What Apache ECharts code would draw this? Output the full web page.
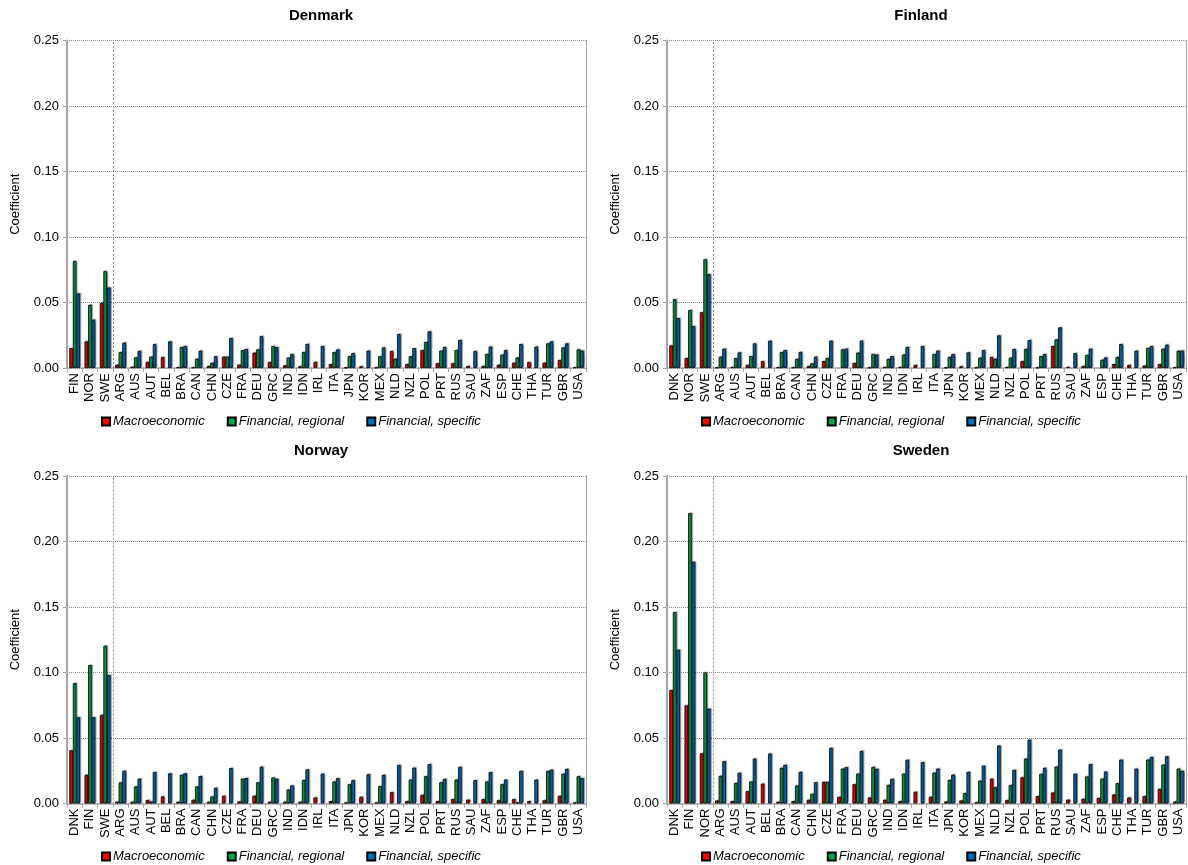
<!DOCTYPE html>
<html>
<head>
<meta charset="utf-8">
<title>Coefficients by country</title>
<script src="https://cdn.jsdelivr.net/npm/echarts@6/dist/echarts.min.js"></script>
<style>
  html, body { margin: 0; padding: 0; background: #fff; }
  #chart { width: 1188px; height: 865px; }
</style>
</head>
<body>
<div id="chart"></div>
<script>
// Shared list of the non-Nordic countries
const otherCountries = ['ARG','AUS','AUT','BEL','BRA','CAN','CHN','CZE','FRA','DEU','GRC','IND','IDN','IRL','ITA','JPN','KOR','MEX','NLD','NZL','POL','PRT','RUS','SAU','ZAF','ESP','CHE','THA','TUR','GBR','USA'];

const denmarkCats = ['FIN','NOR','SWE'].concat(otherCountries);
const finlandCats = ['DNK','NOR','SWE'].concat(otherCountries);
const norwayCats  = ['DNK','FIN','SWE'].concat(otherCountries);
const swedenCats  = ['DNK','FIN','NOR'].concat(otherCountries);

const seriesNames = ['Macroeconomic', 'Financial, regional', 'Financial, specific'];
const yTicks = [0, 0.05, 0.10, 0.15, 0.20, 0.25];
const nordicCount = 3; // first categories are the other Nordic countries

// Denmark
const denmarkMacro = [0.0152,0.0203,0.0497,0.0025,0.0010,0.0046,0.0084,0.0005,0.0005,0.0015,0.0086,0.0025,0.0117,0.0046,0.0020,0.0013,0.0046,0.0030,0.0003,0.0013,0.0003,0.0130,0.0030,0.0137,0.0036,0.0036,0.0015,0.0015,0.0025,0.0040,0.0046,0.0040,0.0061,0.0005];
const denmarkRegional = [0.0817,0.0482,0.0739,0.0122,0.0080,0.0086,-0.0005,0.0160,0.0070,0.0040,0.0086,0.0137,0.0142,0.0168,0.0080,0.0122,-0.0003,0.0122,0.0090,-0.0003,0.0090,0.0070,0.0090,0.0198,0.0132,0.0137,-0.0003,0.0107,0.0102,0.0080,-0.0003,0.0188,0.0157,0.0142];
const denmarkSpecific = [0.0569,0.0368,0.0614,0.0193,0.0130,0.0183,0.0203,0.0168,0.0132,0.0090,0.0228,0.0145,0.0244,0.0160,0.0107,0.0183,0.0168,0.0142,0.0114,0.0132,0.0157,0.0259,0.0152,0.0279,0.0160,0.0213,0.0130,0.0163,0.0137,0.0183,0.0163,0.0203,0.0188,0.0132];

// Finland
const finlandMacro = [0.0173,0.0076,0.0426,0.0003,0.0008,0.0023,0.0053,0.0005,0.0005,0.0015,0.0053,-0.0003,0.0038,0.0003,0.0008,0.0008,0.0023,-0.0003,0.0003,0.0013,0.0003,0.0084,0.0008,0.0053,0.0003,0.0168,0.0008,0.0015,-0.0003,0.0030,0.0023,0.0018,0.0030,0.0005];
const finlandRegional = [0.0525,0.0442,0.0830,0.0086,0.0076,0.0091,-0.0003,0.0122,0.0069,0.0036,0.0076,0.0142,0.0117,0.0107,0.0069,0.0102,-0.0003,0.0107,0.0084,-0.0003,0.0079,0.0070,0.0079,0.0145,0.0091,0.0218,-0.0003,0.0099,0.0063,0.0084,-0.0003,0.0152,0.0147,0.0132];
const finlandSpecific = [0.0380,0.0320,0.0716,0.0147,0.0119,0.0188,0.0208,0.0137,0.0122,0.0086,0.0208,0.0147,0.0208,0.0102,0.0091,0.0160,0.0168,0.0132,0.0107,0.0119,0.0137,0.0249,0.0145,0.0213,0.0107,0.0310,0.0114,0.0147,0.0081,0.0183,0.0132,0.0168,0.0178,0.0132];

// Norway
const norwayMacro = [0.0406,0.0219,0.0676,0.0013,0.0013,0.0026,0.0054,0.0013,0.0028,0.0013,0.0059,0.0015,0.0059,0.0013,0.0013,0.0013,0.0046,0.0018,0.0008,0.0051,0.0008,0.0086,0.0018,0.0066,0.0018,0.0033,0.0030,0.0033,0.0025,0.0033,0.0018,0.0025,0.0058,0.0008];
const norwayRegional = [0.0918,0.1056,0.1204,0.0161,0.0130,0.0015,-0.0003,0.0219,0.0130,0.0054,-0.0003,0.0189,0.0161,0.0199,0.0107,0.0179,-0.0003,0.0168,0.0147,-0.0003,0.0132,-0.0003,0.0183,0.0208,0.0162,0.0183,-0.0003,0.0168,0.0147,0.0008,-0.0003,0.0249,0.0228,0.0208];
const norwaySpecific = [0.0658,0.0658,0.0980,0.0250,0.0189,0.0240,0.0230,0.0230,0.0209,0.0120,0.0270,0.0194,0.0281,0.0189,0.0138,0.0260,0.0228,0.0193,0.0178,0.0223,0.0218,0.0294,0.0274,0.0300,0.0188,0.0279,0.0178,0.0239,0.0183,0.0249,0.0183,0.0259,0.0264,0.0193];

// Sweden
const swedenMacro = [0.0866,0.0749,0.0383,0.0023,0.0018,0.0094,0.0152,0.0013,0.0018,0.0028,0.0165,0.0051,0.0147,0.0046,0.0028,0.0018,0.0089,0.0051,0.0015,0.0023,0.0010,0.0190,0.0025,0.0200,0.0056,0.0084,0.0030,0.0036,0.0041,0.0069,0.0046,0.0056,0.0112,0.0015];
const swedenRegional = [0.1460,0.2216,0.1000,0.0211,0.0157,0.0168,-0.0005,0.0272,0.0137,0.0074,0.0165,0.0266,0.0228,0.0279,0.0142,0.0228,-0.0008,0.0236,0.0180,0.0079,0.0175,0.0124,0.0140,0.0343,0.0226,0.0282,-0.0008,0.0206,0.0190,0.0155,-0.0008,0.0335,0.0297,0.0266];
const swedenSpecific = [0.1173,0.1845,0.0723,0.0322,0.0234,0.0343,0.0381,0.0294,0.0241,0.0162,0.0424,0.0277,0.0401,0.0264,0.0188,0.0333,0.0315,0.0266,0.0221,0.0241,0.0289,0.0442,0.0256,0.0487,0.0272,0.0411,0.0228,0.0300,0.0244,0.0335,0.0266,0.0355,0.0360,0.0250];

const panels = [
  { title: 'Denmark', cats: denmarkCats, data: [denmarkMacro, denmarkRegional, denmarkSpecific], left: 67,  top: 40.5, titleX: 316, titleY: 3,   legendX: 96,  legendY: 410 },
  { title: 'Finland', cats: finlandCats, data: [finlandMacro, finlandRegional, finlandSpecific], left: 667, top: 40.5, titleX: 916, titleY: 3,   legendX: 696, legendY: 410 },
  { title: 'Norway',  cats: norwayCats,  data: [norwayMacro, norwayRegional, norwaySpecific],    left: 67,  top: 476,  titleX: 316, titleY: 438, legendX: 96,  legendY: 845 },
  { title: 'Sweden',  cats: swedenCats,  data: [swedenMacro, swedenRegional, swedenSpecific],    left: 667, top: 476,  titleX: 916, titleY: 438, legendX: 696, legendY: 845 }
];

const plotW = 519;
const plotH = 327.5;
const colors = ['#ff0000', '#00a550', '#0070c0'];
const FONT = 'Liberation Sans, Arial, sans-serif';
const gridGrey = '#8c8c8c';
const axisGrey = '#a6a6a6';

const option = {
  animation: false,
  backgroundColor: '#ffffff',
  textStyle: { fontFamily: FONT },
  title: [], grid: [], xAxis: [], yAxis: [], legend: [], series: []
};

panels.forEach((p, gi) => {
  option.title.push({
    text: p.title, left: p.titleX, top: p.titleY, textAlign: 'center',
    textStyle: { fontFamily: FONT, fontSize: 15, fontWeight: 'bold', color: '#000' }
  });
  option.grid.push({ left: p.left, top: p.top, width: plotW, height: plotH, containLabel: false });

  // country axis
  option.xAxis.push({
    type: 'category', gridIndex: gi, data: p.cats, boundaryGap: true,
    axisLine: { show: true, onZero: false, lineStyle: { color: axisGrey, width: 1.5 } },
    axisTick: { show: true, length: 4, interval: 0, alignWithLabel: false, lineStyle: { color: axisGrey } },
    axisLabel: { interval: 0, rotate: 90, margin: 5, fontSize: 13, color: '#000', fontFamily: FONT },
    splitLine: { show: false }
  });
  // hidden companion axis in category units, used to place the Nordic separator
  option.xAxis.push({
    type: 'value', gridIndex: gi, min: 0, max: p.cats.length, show: false
  });

  option.yAxis.push({
    type: 'value', gridIndex: gi, min: yTicks[0], max: yTicks[yTicks.length - 1], interval: 0.05,
    name: 'Coefficient', nameLocation: 'middle', nameGap: 45, nameRotate: 90,
    nameTextStyle: { fontSize: 13, color: '#000', fontFamily: FONT },
    axisLine: { show: true, lineStyle: { color: axisGrey, width: 2 } },
    axisTick: { show: true, length: 4, lineStyle: { color: axisGrey } },
    axisLabel: { fontSize: 13, color: '#000', margin: 8, fontFamily: FONT, formatter: (v) => v.toFixed(2) },
    splitLine: { show: true, lineStyle: { type: 'dotted', color: gridGrey, width: 1 } }
  });
  // right-hand frame line of the plot area
  option.yAxis.push({
    type: 'value', gridIndex: gi, position: 'right', min: yTicks[0], max: yTicks[yTicks.length - 1], interval: 0.05,
    axisLine: { show: true, lineStyle: { color: axisGrey, width: 1 } },
    axisTick: { show: false }, axisLabel: { show: false }, splitLine: { show: false }
  });

  option.legend.push({
    data: seriesNames, left: p.legendX, top: p.legendY, orient: 'horizontal',
    icon: 'rect', itemWidth: 8, itemHeight: 8, itemGap: 22,
    textStyle: { fontSize: 13, fontStyle: 'italic', color: '#000', fontFamily: FONT, padding: [0, 0, 0, -2] },
    selectedMode: false
  });

  seriesNames.forEach((name, si) => {
    option.series.push({
      type: 'bar', name: name, xAxisIndex: gi * 2, yAxisIndex: gi * 2,
      data: p.data[si], barWidth: 3.6, barGap: '0%',
      itemStyle: {
        color: colors[si], borderColor: '#000', borderWidth: 0.8,
        shadowColor: 'rgba(0,0,0,0.35)', shadowOffsetX: 1.2, shadowOffsetY: -0.8, shadowBlur: 1
      },
      emphasis: { disabled: true }
    });
  });

  // dotted vertical separator after the Nordic block
  option.series.push({
    type: 'line', name: 'separator', xAxisIndex: gi * 2 + 1, yAxisIndex: gi * 2 + 1,
    data: [[nordicCount, 0]], showSymbol: false, symbol: 'none', silent: true,
    lineStyle: { opacity: 0 },
    markLine: {
      silent: true, symbol: ['none', 'none'], label: { show: false },
      lineStyle: { type: [2, 2], color: gridGrey, width: 1 },
      emphasis: { disabled: true },
      data: [{ xAxis: nordicCount }]
    }
  });
});

const chart = echarts.init(document.getElementById('chart'), null, { renderer: 'canvas' });
chart.setOption(option);
</script>
</body>
</html>
